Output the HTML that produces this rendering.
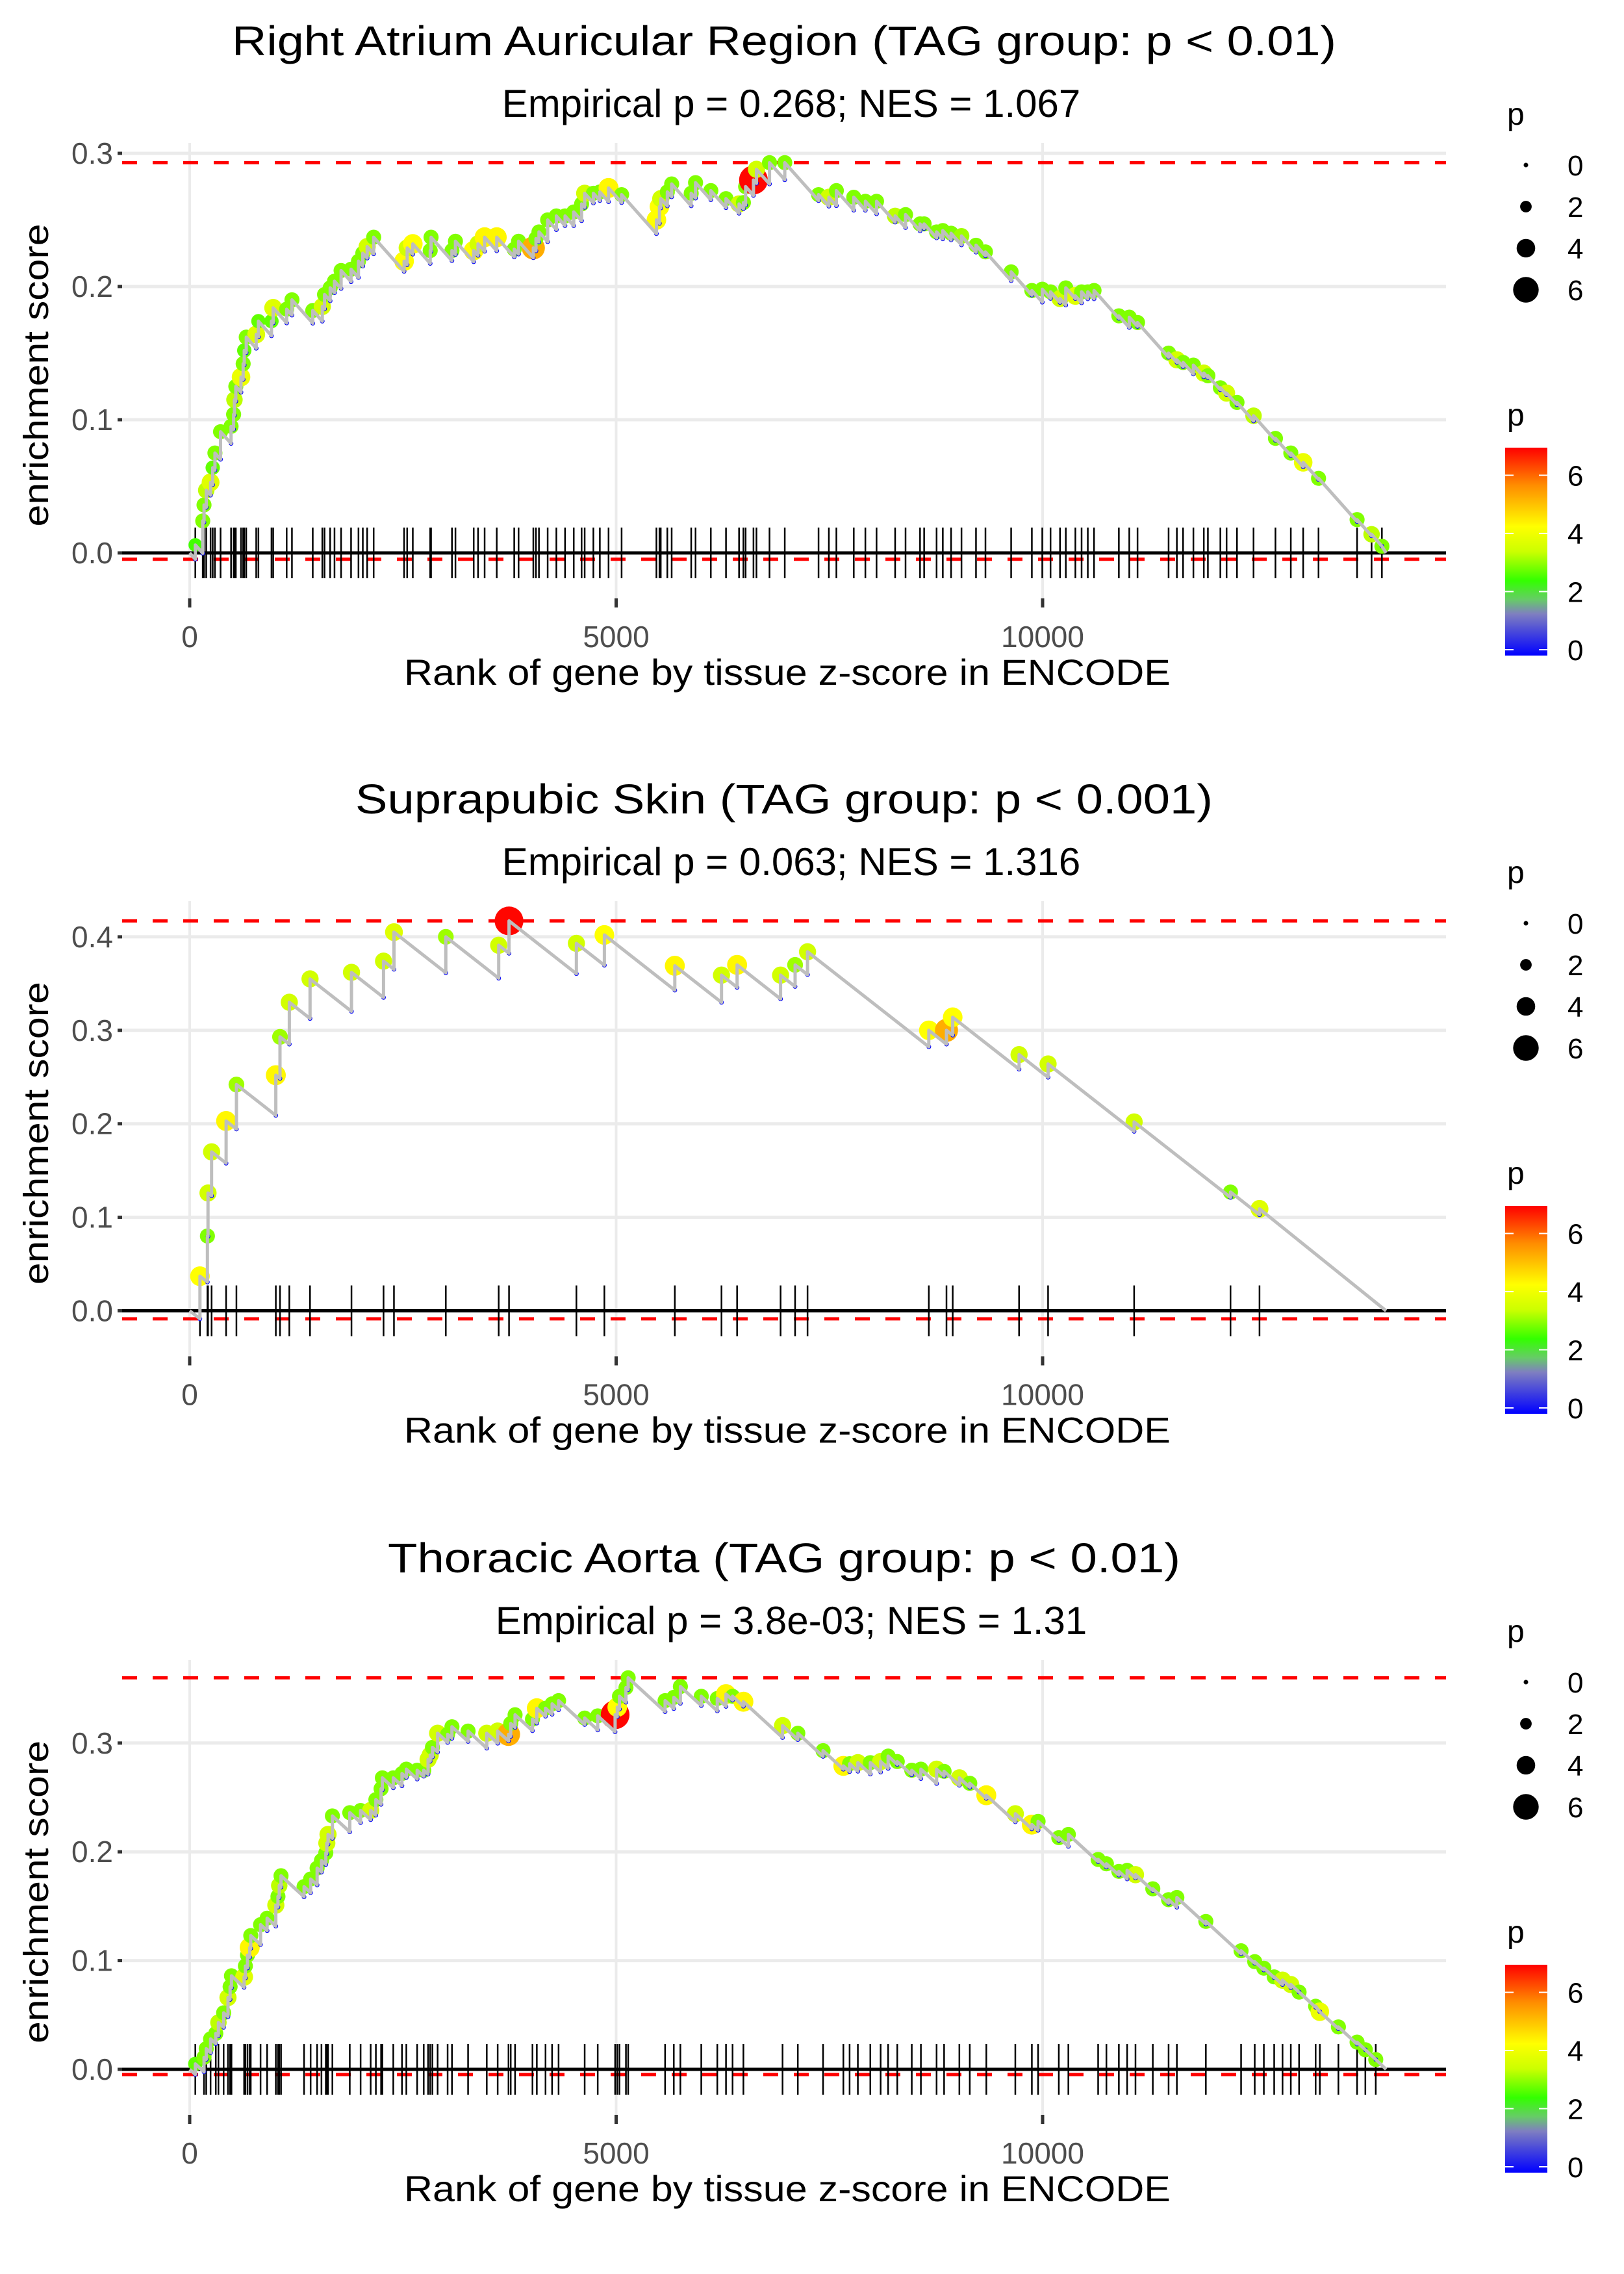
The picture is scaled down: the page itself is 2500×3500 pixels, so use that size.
<!DOCTYPE html>
<html><head><meta charset="utf-8"><style>
html,body{margin:0;padding:0;background:#fff}
svg{display:block;font-family:"Liberation Sans",Arial,sans-serif}
</style></head><body>
<svg id="chart" width="2500" height="3500" viewBox="0 0 2500 3500" xmlns="http://www.w3.org/2000/svg">
<defs>
<linearGradient id="pgrad" x1="0" y1="1" x2="0" y2="0">
<stop offset="0" stop-color="#0000ff"/>
<stop offset="0.2" stop-color="#7f7fc0"/>
<stop offset="0.27" stop-color="#66cc66"/>
<stop offset="0.36" stop-color="#33ff00"/>
<stop offset="0.5" stop-color="#ccff00"/>
<stop offset="0.62" stop-color="#ffff00"/>
<stop offset="0.82" stop-color="#ff8c00"/>
<stop offset="1" stop-color="#ff0000"/>
</linearGradient>
</defs>
</svg>
<script>
// ---------- Panel 1 data ----------
const p1Title = "Right Atrium Auricular Region (TAG group: p < 0.01)";
const p1Sub = "Empirical p = 0.268; NES = 1.067";
const p1Ranks = [66,153,168,194,245,270,296,362,485,515,525,541,602,627,640,663,780,806,959,979,1137,1199,1443,1555,1581,1647,1698,1775,1892,1979,2030,2081,2157,2514,2550,2616,2820,2830,3075,3116,3330,3381,3458,3600,3805,3856,4029,4060,4095,4197,4299,4401,4503,4595,4631,4733,4809,4911,5064,5472,5508,5523,5600,5651,5880,5931,6110,6288,6441,6492,6518,6610,6645,6798,6977,7373,7494,7582,7786,7922,8053,8271,8393,8563,8611,8757,8830,8927,9049,9219,9330,9631,9874,9996,10093,10204,10272,10384,10457,10530,10603,10894,11016,11113,11477,11574,11647,11768,11890,11938,12084,12157,12279,12473,12730,12910,13055,13235,13687,13857,13978];
const p1ES = [0.006,0.024,0.036,0.047,0.053,0.064,0.075,0.091,0.095,0.104,0.115,0.125,0.132,0.142,0.152,0.162,0.164,0.174,0.174,0.184,0.183,0.190,0.182,0.185,0.194,0.199,0.204,0.212,0.213,0.219,0.225,0.230,0.237,0.219,0.229,0.232,0.227,0.237,0.227,0.234,0.227,0.232,0.237,0.237,0.228,0.234,0.229,0.236,0.241,0.250,0.253,0.253,0.256,0.262,0.270,0.270,0.271,0.274,0.269,0.250,0.260,0.266,0.271,0.277,0.270,0.278,0.272,0.266,0.262,0.263,0.275,0.280,0.288,0.293,0.293,0.269,0.267,0.272,0.267,0.264,0.264,0.253,0.254,0.247,0.247,0.241,0.242,0.240,0.238,0.231,0.226,0.211,0.197,0.198,0.196,0.191,0.199,0.193,0.196,0.196,0.197,0.178,0.177,0.173,0.150,0.145,0.143,0.141,0.135,0.133,0.124,0.120,0.113,0.103,0.086,0.075,0.068,0.056,0.025,0.014,0.005];
const p1P = [2.6,3.0,3.0,3.4,3.8,2.8,3.0,3.0,3.0,3.0,3.4,3.0,4.0,3.0,2.8,3.0,3.8,2.8,2.8,3.8,3.0,3.0,3.0,3.6,3.0,3.0,3.0,3.0,3.0,3.0,3.0,3.6,3.0,4.3,3.6,4.3,3.0,3.0,3.0,3.0,4.3,3.6,4.4,4.4,3.0,3.0,5.3,3.0,3.0,3.0,3.0,3.0,3.0,3.0,3.6,3.0,3.0,4.4,3.0,4.3,4.3,3.6,3.0,3.0,3.0,3.0,3.0,3.0,3.6,3.0,3.0,6.9,3.6,3.0,3.0,3.0,3.6,3.0,3.0,3.0,3.0,3.4,3.0,3.0,3.0,3.0,3.0,3.0,3.2,3.0,3.0,3.0,3.0,3.0,3.0,3.6,3.0,3.8,3.0,3.0,3.0,3.0,3.0,3.0,3.0,3.6,3.0,3.0,3.6,3.0,3.0,3.6,3.0,3.4,3.0,3.0,4.0,3.0,3.0,3.4,3.0];
const p1YTicks = [0, 0.1, 0.2, 0.3];
const p1YLabels = ["0.0","0.1","0.2","0.3"];

// ---------- Panel 2 data ----------
const p2Title = "Suprapubic Skin (TAG group: p < 0.001)";
const p2Sub = "Empirical p = 0.063; NES = 1.316";
const p2Ranks = [120,208,215,257,427,548,1010,1059,1168,1411,1897,2273,2395,3003,3623,3744,4534,4862,5688,6235,6418,6928,7098,7244,8666,8873,8946,9724,10064,11073,12203,12543];
const p2ES = [0.037,0.080,0.126,0.170,0.203,0.242,0.252,0.293,0.330,0.355,0.362,0.374,0.405,0.400,0.391,0.417,0.393,0.402,0.369,0.359,0.370,0.359,0.370,0.384,0.300,0.300,0.314,0.274,0.264,0.202,0.127,0.109];
const p2P = [4.3,3.0,3.6,3.6,4.4,3.2,4.4,3.2,3.6,3.6,3.6,3.6,3.8,3.2,3.6,6.9,3.6,4.3,4.4,3.6,4.4,3.6,3.2,3.6,4.3,5.3,4.3,3.6,3.6,3.6,3.0,3.8];
const p2YTicks = [0, 0.1, 0.2, 0.3, 0.4];
const p2YLabels = ["0.0","0.1","0.2","0.3","0.4"];

// ---------- Panel 3 data ----------
const p3Title = "Thoracic Aorta (TAG group: p < 0.01)";
const p3Sub = "Empirical p = 3.8e-03; NES = 1.31";
const p3Ranks = [66,168,194,245,306,337,398,449,474,490,638,653,678,704,716,831,908,1010,1035,1050,1071,1341,1418,1494,1545,1596,1608,1622,1673,1877,2004,2122,2183,2244,2259,2387,2489,2540,2667,2744,2795,2820,2846,2907,3024,3075,3264,3483,3611,3738,3764,3815,4019,4070,4172,4249,4325,4631,4784,4988,5013,5039,5115,5141,5574,5676,5753,5998,6186,6288,6365,6492,6951,7130,7426,7664,7737,7834,7980,8101,8189,8296,8466,8573,8757,8845,9024,9146,9340,9680,9874,9947,10190,10302,10651,10748,10894,10991,11089,11292,11477,11574,11914,12327,12487,12594,12715,12813,12910,13007,13201,13250,13468,13687,13784,13906];
const p3ES = [0.005,0.011,0.019,0.028,0.033,0.043,0.052,0.066,0.076,0.086,0.085,0.095,0.105,0.112,0.123,0.133,0.139,0.151,0.159,0.169,0.178,0.168,0.175,0.185,0.192,0.199,0.208,0.216,0.233,0.236,0.238,0.238,0.248,0.258,0.268,0.268,0.272,0.276,0.275,0.275,0.285,0.289,0.296,0.309,0.308,0.315,0.311,0.309,0.311,0.308,0.318,0.326,0.322,0.332,0.332,0.336,0.339,0.323,0.325,0.326,0.333,0.343,0.351,0.360,0.339,0.342,0.352,0.343,0.341,0.345,0.343,0.338,0.316,0.309,0.293,0.279,0.281,0.282,0.282,0.283,0.288,0.283,0.275,0.276,0.276,0.274,0.268,0.263,0.252,0.235,0.225,0.228,0.213,0.216,0.193,0.189,0.182,0.183,0.179,0.166,0.156,0.158,0.136,0.109,0.099,0.093,0.085,0.082,0.078,0.071,0.058,0.053,0.039,0.025,0.018,0.009];
const p3P = [2.8,3.0,3.0,3.0,3.0,3.4,3.0,3.6,3.0,3.0,3.8,3.0,3.0,4.4,3.0,3.0,3.0,3.6,3.0,3.4,3.0,3.0,3.0,3.0,3.0,3.0,3.6,3.6,3.0,3.0,3.0,3.6,3.0,3.0,3.0,3.0,3.0,3.0,3.0,3.0,3.6,3.6,3.0,3.6,3.0,3.0,3.0,3.6,3.6,5.3,3.0,3.0,3.0,4.4,3.0,3.0,3.0,3.0,3.0,6.9,4.3,3.0,3.0,3.0,3.0,3.0,3.0,3.0,3.0,4.4,3.0,4.4,3.6,3.0,3.0,4.4,3.0,3.6,3.0,3.6,3.0,3.0,3.0,3.0,3.6,3.0,3.6,3.0,4.4,3.6,4.4,3.0,3.0,3.0,3.0,3.0,3.0,3.0,3.6,3.0,3.0,3.0,3.0,3.0,3.0,3.0,3.0,3.6,3.6,3.0,3.0,4.0,3.0,3.0,3.0,3.0];
const p3YTicks = [0, 0.1, 0.2, 0.3];
const p3YLabels = ["0.0","0.1","0.2","0.3"];

const nGenes = 14027;
const xTicks = [0, 5000, 10000];
const xTickLabels = ["0","5000","10000"];
const legendSizes = [0, 2, 4, 6];
const legendColorTicks = [0, 2, 4, 6];

const NS = "http://www.w3.org/2000/svg";
const svg = document.getElementById("chart");
function mk(tag, attrs, parent, text) {
  const e = document.createElementNS(NS, tag);
  for (const k in attrs) e.setAttribute(k, attrs[k]);
  if (text !== undefined) e.textContent = text;
  (parent || svg).appendChild(e);
  return e;
}
const X0 = 292, XK = 0.1313, PL = 188, PR = 2226;
function xS(r) { return X0 + r * XK; }

const cStops = [[0,[0,0,255]],[1.4,[127,127,192]],[1.9,[102,204,102]],[2.5,[51,255,0]],[3.5,[204,255,0]],[4.3,[255,255,0]],[5.7,[255,140,0]],[6.95,[255,0,0]]];
function pColor(p) {
  if (p <= cStops[0][0]) return "rgb(0,0,255)";
  for (let i = 1; i < cStops.length; i++) {
    if (p <= cStops[i][0]) {
      const a = cStops[i-1], b = cStops[i], t = (p - a[0]) / (b[0] - a[0]);
      const c = a[1].map((v, j) => Math.round(v + (b[1][j] - v) * t));
      return "rgb(" + c.join(",") + ")";
    }
  }
  return "rgb(255,0,0)";
}
function pRadius(p) { return 3.5 + 2.7 * p; }

function drawPanel(id, top, y0, per01, title, sub, ranks, es, pv, yTicks, yLabels) {
  const g = mk("g", {}, svg);
  
  
  const yS = v => y0 - v * per01 * 10;
  const bottom = y0 + 70;
  yTicks.forEach((t, i) => {
    const l = mk("line", {x1: PL, x2: PR, y1: yS(t), y2: yS(t), stroke: "#ebebeb", "stroke-width": 5}, g);
    
    
    const tk = mk("line", {x1: 181, x2: 188, y1: yS(t), y2: yS(t), stroke: "#333", "stroke-width": 5}, g);
    
    
    const tl = mk("text", {x: 174, y: yS(t) + 16, "text-anchor": "end", "font-size": 46, fill: "#4d4d4d"}, g, yLabels[i]);
    
    
  });
  xTicks.forEach((t, i) => {
    const l = mk("line", {x1: xS(t), x2: xS(t), y1: top, y2: bottom, stroke: "#ebebeb", "stroke-width": 4}, g);
    
    
    const tk = mk("line", {x1: xS(t), x2: xS(t), y1: bottom, y2: bottom + 14, stroke: "#333", "stroke-width": 5}, g);
    
    
    const tl = mk("text", {x: xS(t), y: y0 + 145, "text-anchor": "middle", "font-size": 46, fill: "#4d4d4d"}, g, xTickLabels[i]);
    
    
  });
  const slope = 1 / (nGenes - ranks.length);
  const lows = [];
  let prevR = 0, prevTop = 0;
  for (let i = 0; i < ranks.length; i++) {
    let low = prevTop - slope * (ranks[i] - prevR);
    if (low > es[i]) low = es[i];
    lows.push(low);
    prevR = ranks[i]; prevTop = es[i];
  }
  const minES = Math.min(0, ...lows);
  const maxES = Math.max(...es);
  const zl = mk("line", {x1: PL, x2: PR, y1: y0, y2: y0, stroke: "#000", "stroke-width": 5}, g);
  
  
  [maxES, minES].forEach((v, i) => {
    const d = mk("line", {x1: PL, x2: PR, y1: yS(v), y2: yS(v), stroke: "#ff0000", "stroke-width": 5, "stroke-dasharray": "23 24"}, g);
    
    
  });
  ranks.forEach(r => {
    const l = mk("line", {x1: xS(r), x2: xS(r), y1: y0 - 39, y2: y0 + 39, stroke: "#000", "stroke-width": 2.5}, g);
    
    
  });
  ranks.forEach((r, i) => {
    const c = mk("circle", {cx: xS(r), cy: yS(es[i]), r: pRadius(pv[i]), fill: pColor(pv[i])}, g);
    
    
  });
  ranks.forEach((r, i) => {
    const c = mk("circle", {cx: xS(r), cy: yS(lows[i]), r: 3.5, fill: "#0000ff"}, g);
    
    
  });
  let d = "M" + xS(0) + "," + yS(0);
  ranks.forEach((r, i) => {
    d += " L" + xS(r).toFixed(1) + "," + yS(lows[i]).toFixed(1) + " L" + xS(r).toFixed(1) + "," + yS(es[i]).toFixed(1);
  });
  d += " L" + xS(nGenes) + "," + yS(0);
  const path = mk("path", {d: d, fill: "none", stroke: "#bebebe", "stroke-width": 5, "stroke-linejoin": "round"}, g);
  
  
  const t1 = mk("text", {x: 1207, y: top - 135, "text-anchor": "middle", "font-size": 64, fill: "#000", textLength: title.length > 45 ? 1700 : (title.length > 37 ? 1320 : 1220), lengthAdjust: "spacingAndGlyphs"}, g, title);
  
  
  const t2 = mk("text", {x: 1218, y: top - 40, "text-anchor": "middle", "font-size": 60, fill: "#000"}, g, sub);
  
  
  const ym = (top + bottom + 14) / 2;
  const yt = mk("text", {x: 0, y: 0, "text-anchor": "middle", "font-size": 54, fill: "#000", transform: "translate(74," + ym + ") rotate(-90)", textLength: 466, lengthAdjust: "spacingAndGlyphs"}, g, "enrichment score");
  
  
  const xt = mk("text", {x: 1212, y: y0 + 203, "text-anchor": "middle", "font-size": 56, fill: "#000", textLength: 1180, lengthAdjust: "spacingAndGlyphs"}, g, "Rank of gene by tissue z-score in ENCODE");
  
  
  const off = top - 220;
  const lg = mk("g", {}, g);
  
  
  mk("text", {x: 2320, y: 192 + off, "font-size": 48, fill: "#000"}, lg, "p");
  legendSizes.forEach((s, i) => {
    const cy = 254 + i * 64 + off;
    const c = mk("circle", {cx: 2349, cy: cy, r: pRadius(s), fill: "#000"}, lg);
    
    
    const t = mk("text", {x: 2413, y: cy + 16, "font-size": 44, fill: "#000"}, lg, String(s));
    
    
  });
  const cg = mk("g", {}, g);
  
  
  mk("text", {x: 2320, y: 655 + off, "font-size": 48, fill: "#000"}, cg, "p");
  const bar = mk("rect", {x: 2317, y: 689 + off, width: 65, height: 320, fill: "url(#pgrad)"}, cg);
  
  
  legendColorTicks.forEach(v => {
    const yy = 1000 + off - v * 44.75;
    mk("line", {x1: 2317, x2: 2330, y1: yy, y2: yy, stroke: "#fff", "stroke-width": 2}, cg);
    mk("line", {x1: 2369, x2: 2382, y1: yy, y2: yy, stroke: "#fff", "stroke-width": 2}, cg);
    const t = mk("text", {x: 2413, y: yy + 16, "font-size": 44, fill: "#000"}, cg, String(v));
    
    
  });
}

drawPanel("panel-right-atrium", 220, 851, 205, p1Title, p1Sub, p1Ranks, p1ES, p1P, p1YTicks, p1YLabels);
drawPanel("panel-suprapubic-skin", 1387, 2017.5, 143.9, p2Title, p2Sub, p2Ranks, p2ES, p2P, p2YTicks, p2YLabels);
drawPanel("panel-thoracic-aorta", 2555, 3185, 167.4, p3Title, p3Sub, p3Ranks, p3ES, p3P, p3YTicks, p3YLabels);
</script>
</body></html>
